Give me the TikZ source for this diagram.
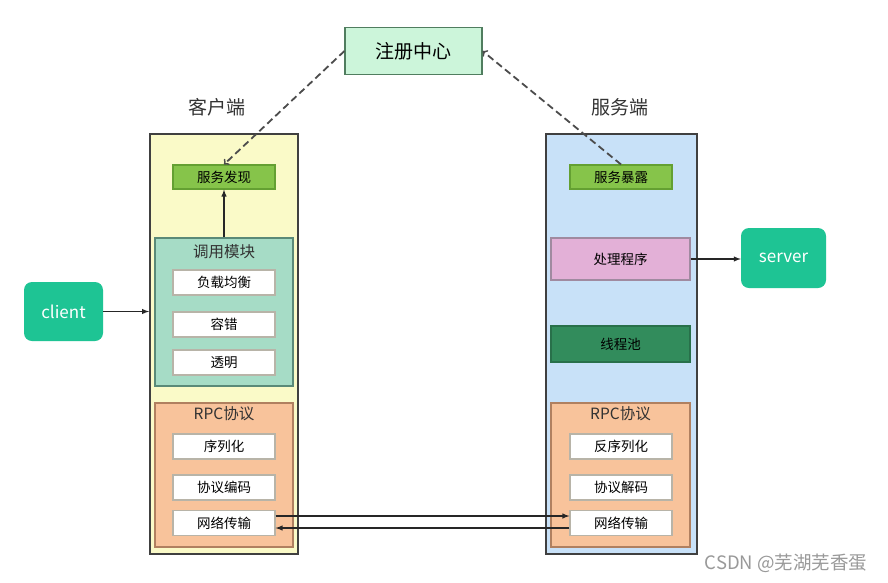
\documentclass[tikz,border=0pt]{standalone}
\usepackage{fontspec}
\setmainfont{Noto Sans CJK SC}
\usepackage{tikz}

\tikzset{
  bigbox/.style={draw=black!75,line width=1.8pt,inner sep=0pt},
  part/.style={draw,line width=1.1pt,inner sep=0pt,font=\fontsize{13.5}{15}\selectfont},
  item/.style={part,fill=white,draw=itemline,minimum width=102pt,minimum height=25pt},
  endpoint/.style={draw=none,fill=endcolor,rounded corners=8pt,text=white,inner sep=0pt,font=\fontsize{17}{20}\selectfont},
  title/.style={font=\fontsize{15.5}{18}\selectfont,text=black!80},
  side/.style={font=\fontsize{19}{22}\selectfont,text=black!80},
  link/.style={line width=1.4pt,black!85,-latex},
  lookup/.style={line width=1.8pt,dash pattern=on 7pt off 4pt,black!70,->}
}

\begin{document}
\begin{tikzpicture}[x=1pt,y=-1pt]
\definecolor{regcolor}{RGB}{204,245,218}
\definecolor{reglinecolor}{RGB}{80,125,95}
\definecolor{clientcolor}{RGB}{250,250,200}
\definecolor{servercolor}{RGB}{200,225,248}
\definecolor{findcolor}{RGB}{134,196,74}
\definecolor{findline}{RGB}{100,160,50}
\definecolor{callcolor}{RGB}{166,220,198}
\definecolor{callline}{RGB}{90,138,120}
\definecolor{rpccolor}{RGB}{248,195,155}
\definecolor{rpcline}{RGB}{176,128,96}
\definecolor{itemline}{RGB}{184,180,168}
\definecolor{handlecolor}{RGB}{227,176,215}
\definecolor{handleline}{RGB}{160,138,160}
\definecolor{poolcolor}{RGB}{50,140,92}
\definecolor{endcolor}{RGB}{30,196,148}
\useasboundingbox (0,0) rectangle (888,582);
\fill[white] (0,0) rectangle (888,582);
% registry
\node [part,fill=regcolor,draw=reglinecolor,minimum width=137pt,minimum height=47pt,font=\fontsize{19}{22}\selectfont] (reg) at (413.5,51) {注册中心};
\node [side] (cliname) at (217,107) {客户端};
\node [side] (srvname) at (620,107) {服务端};
% client side
\node [bigbox,fill=clientcolor,minimum width=148pt,minimum height=420pt] (cbox) at (224,344) {};
\node [part,fill=findcolor,draw=findline,minimum width=102pt,minimum height=24pt] (find) at (224,177) {服务发现};
\node [part,fill=callcolor,draw=callline,minimum width=138pt,minimum height=148pt] (call) at (224,312) {};
\node [title] (calltitle) at (224,252) {调用模块};
\node [item] (lb) at (224,282.5) {负载均衡};
\node [item] (ft) at (224,324.5) {容错};
\node [item] (tr) at (224,362.5) {透明};
\node [part,fill=rpccolor,draw=rpcline,minimum width=138pt,minimum height=144pt] (crpc) at (224,475) {};
\node [title] (crpctitle) at (224,414) {RPC协议};
\node [item] (ser) at (224,446.5) {序列化};
\node [item] (enc) at (224,487.5) {协议编码};
\node [item] (cnet) at (224,523) {网络传输};
\node [endpoint,minimum width=79pt,minimum height=59pt] (client) at (63.5,311.5) {client};
% server side
\node [bigbox,fill=servercolor,minimum width=151pt,minimum height=420pt] (sbox) at (621.5,344) {};
\node [part,fill=findcolor,draw=findline,minimum width=102pt,minimum height=24pt] (expose) at (621,177) {服务暴露};
\node [part,fill=handlecolor,draw=handleline,minimum width=139pt,minimum height=42pt] (handler) at (620.5,259) {处理程序};
\node [part,fill=poolcolor,draw=poolcolor!80!black,minimum width=139pt,minimum height=36pt] (pool) at (620.5,344) {线程池};
\node [part,fill=rpccolor,draw=rpcline,minimum width=139pt,minimum height=144pt] (srpc) at (620.5,475) {};
\node [title] (srpctitle) at (620.5,414) {RPC协议};
\node [item] (deser) at (621,446.5) {反序列化};
\node [item] (dec) at (621,487.5) {协议解码};
\node [item] (snet) at (621,523) {网络传输};
\node [endpoint,minimum width=85pt,minimum height=60pt] (server) at (783.5,258) {server};
% connectors
\draw [lookup] (reg.west) -- (find.north);
\draw [lookup] (expose.north) -- (reg.east);
\draw [link] (call.north) -- (find.south);
\draw [link] (client.east) -- (client.east -| cbox.west);
\draw [link] (handler.east) -- (server.west |- handler.east);
\draw [link] ([yshift=7pt]cnet.east) -- ([yshift=7pt]snet.west);
\draw [link] ([yshift=-5pt]snet.west) -- ([yshift=-5pt]cnet.east);
\node [text=black!40,font=\fontsize{18.5}{20}\selectfont] (mark) at (786,563) {CSDN @芜湖芜香蛋};
\end{tikzpicture}
\end{document}
